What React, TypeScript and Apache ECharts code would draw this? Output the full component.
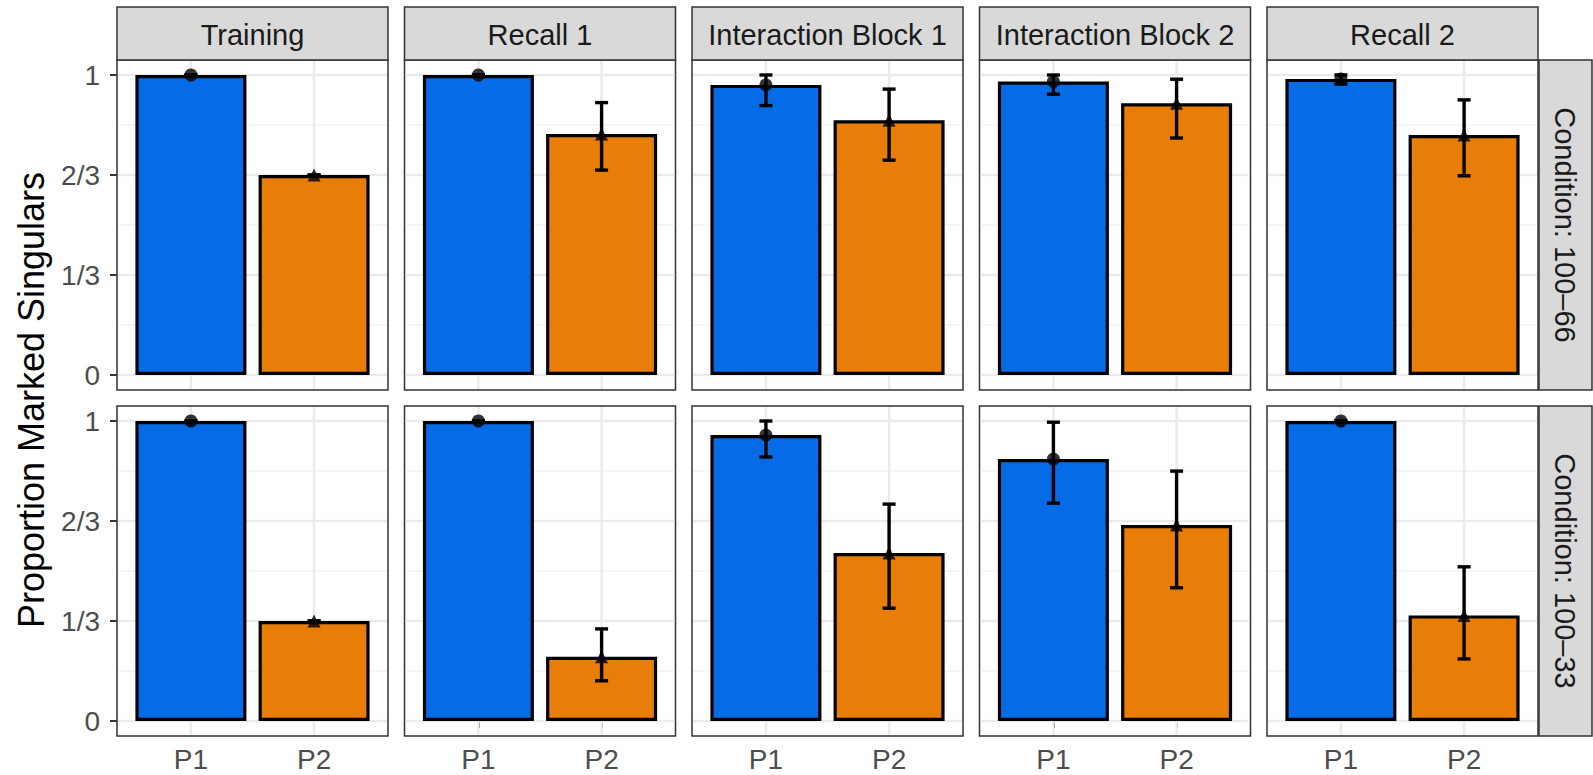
import React, { useEffect, useRef } from "react";
import * as echarts from "echarts";

// ---------- data ----------
const stages = ["Training", "Recall 1", "Interaction Block 1", "Interaction Block 2", "Recall 2"];
const conditions = ["Condition: 100\u201366", "Condition: 100\u201333"];
const participants = ["P1", "P2"];
const yTickValues = [0, 1 / 3, 2 / 3, 1];
const yTickLabels = ["0", "1/3", "2/3", "1"];
const yMinorValues = [1 / 6, 1 / 2, 5 / 6];
const xTickValues = [1, 2];

// Condition 100-66 (top row)
const c66P1 = [1, 1, 0.967, 0.978, 0.987];
const c66P1Low = [1, 1, 0.898, 0.936, 0.97];
const c66P1High = [1, 1, 1.0, 1.0, 1.0];
const c66P2 = [2 / 3, 0.803, 0.849, 0.906, 0.8];
const c66P2Low = [2 / 3, 0.683, 0.716, 0.79, 0.664];
const c66P2High = [2 / 3, 0.908, 0.953, 0.986, 0.917];

// Condition 100-33 (bottom row)
const c33P1 = [1, 1, 0.953, 0.873, 1];
const c33P1Low = [1, 1, 0.88, 0.726, 1];
const c33P1High = [1, 1, 1.0, 0.996, 1];
const c33P2 = [1 / 3, 0.214, 0.56, 0.653, 0.352];
const c33P2Low = [1 / 3, 0.134, 0.376, 0.444, 0.207];
const c33P2High = [1 / 3, 0.307, 0.723, 0.833, 0.514];

const rows = [
  { p1: c66P1, p1Low: c66P1Low, p1High: c66P1High, p2: c66P2, p2Low: c66P2Low, p2High: c66P2High },
  { p1: c33P1, p1Low: c33P1Low, p1High: c33P1High, p2: c33P2, p2Low: c33P2Low, p2High: c33P2High },
];

// ---------- layout / style ----------
const FONT = "'Liberation Sans', Arial, Helvetica, sans-serif";
const PANEL_LEFT0 = 117;
const PANEL_W = 271;
const PANEL_GAP = 16.5;
const ROW_TOPS = [60, 406];
const PANEL_H = 330;
const STRIP_TOP = 7;
const STRIP_H = 53;
const RSTRIP_X = 1539;
const RSTRIP_W = 53;
const BAR_COLORS = ["#066BE6", "#E87D07"];
const SYMBOLS = ["circle", "triangle"];

function buildOption() {
  const grid: any[] = [];
  const xAxis: any[] = [];
  const yAxis: any[] = [];
  const series: any[] = [];
  const graphic: any[] = [];

  rows.forEach((row, r) => {
    stages.forEach((stage, c) => {
      const idx = r * stages.length + c;
      const left = PANEL_LEFT0 + c * (PANEL_W + PANEL_GAP);
      const top = ROW_TOPS[r];
      grid.push({
        left,
        top,
        width: PANEL_W,
        height: PANEL_H,
        show: true,
        backgroundColor: "#ffffff",
        borderColor: "#333333",
        borderWidth: 1.5,
        containLabel: false,
      });
      xAxis.push({
        gridIndex: idx,
        type: "value",
        min: 0.4,
        max: 2.6,
        axisLine: { show: false },
        splitLine: { show: false },
        axisTick: {
          show: r === 1,
          customValues: xTickValues,
          length: 7,
          lineStyle: { color: "#333333", width: 2 },
        },
        axisLabel: {
          show: r === 1,
          customValues: xTickValues,
          formatter: (v: number) => participants[Math.round(v) - 1] ?? "",
          color: "#4D4D4D",
          fontSize: 28,
          fontFamily: FONT,
          margin: 9,
        },
      });
      yAxis.push({
        gridIndex: idx,
        type: "value",
        min: -0.05,
        max: 1.05,
        axisLine: { show: false },
        splitLine: { show: false },
        axisTick: {
          show: c === 0,
          customValues: yTickValues,
          length: 7,
          lineStyle: { color: "#333333", width: 2 },
        },
        axisLabel: {
          show: c === 0,
          customValues: yTickValues,
          formatter: (v: number) => yTickLabels[Math.round(v * 3)] ?? "",
          color: "#4D4D4D",
          fontSize: 28,
          fontFamily: FONT,
          margin: 17,
        },
      });

      // gridlines: [value, kind] kind 0 = minor horizontal, 1 = major horizontal, 2 = vertical
      const gridData: number[][] = [
        ...yMinorValues.map((v) => [v, 0]),
        ...yTickValues.map((v) => [v, 1]),
        ...xTickValues.map((v) => [v, 2]),
      ];
      series.push({
        type: "custom",
        xAxisIndex: idx,
        yAxisIndex: idx,
        silent: true,
        z: 1,
        encode: { x: -1, y: -1 },
        data: gridData,
        renderItem: (params: any, api: any) => {
          const v = api.value(0);
          const kind = api.value(1);
          const cs = params.coordSys;
          if (kind === 2) {
            const x = api.coord([v, 0.5])[0];
            return {
              type: "line",
              shape: { x1: x, y1: cs.y + 1, x2: x, y2: cs.y + cs.height - 1 },
              style: { stroke: "#EBEBEB", lineWidth: 2.5 },
            };
          }
          const y = api.coord([1.5, v])[1];
          return {
            type: "line",
            shape: { x1: cs.x + 1, y1: y, x2: cs.x + cs.width - 1, y2: y },
            style: { stroke: kind === 1 ? "#EBEBEB" : "#F2F2F2", lineWidth: kind === 1 ? 2.5 : 1.5 },
          };
        },
      });

      const vals = [row.p1[c], row.p2[c]];
      const lows = [row.p1Low[c], row.p2Low[c]];
      const highs = [row.p1High[c], row.p2High[c]];

      series.push({
        type: "bar",
        xAxisIndex: idx,
        yAxisIndex: idx,
        barWidth: 111,
        z: 2,
        itemStyle: { borderColor: "#000000", borderWidth: 3.2 },
        data: vals.map((v, i) => ({
          value: [xTickValues[i], v],
          itemStyle: { color: BAR_COLORS[i] },
        })),
      });

      series.push({
        type: "custom",
        xAxisIndex: idx,
        yAxisIndex: idx,
        z: 3,
        encode: { x: 0, y: [1, 2] },
        data: vals.map((_, i) => [xTickValues[i], lows[i], highs[i]]),
        renderItem: (params: any, api: any) => {
          const x = api.value(0);
          const lo = api.coord([x, api.value(1)]);
          const hi = api.coord([x, api.value(2)]);
          const hw = 6.5;
          const st = { stroke: "#000000", lineWidth: 3.4 };
          return {
            type: "group",
            children: [
              { type: "line", shape: { x1: lo[0], y1: lo[1], x2: hi[0], y2: hi[1] }, style: st },
              { type: "line", shape: { x1: lo[0] - hw, y1: lo[1], x2: lo[0] + hw, y2: lo[1] }, style: st },
              { type: "line", shape: { x1: hi[0] - hw, y1: hi[1], x2: hi[0] + hw, y2: hi[1] }, style: st },
            ],
          };
        },
      });

      series.push({
        type: "scatter",
        xAxisIndex: idx,
        yAxisIndex: idx,
        z: 4,
        symbolSize: 13,
        itemStyle: { color: "#000000" },
        data: vals.map((v, i) => ({ value: [xTickValues[i], v], symbol: SYMBOLS[i] })),
      });

      // top strips (only first row)
      if (r === 0) {
        graphic.push({
          type: "rect",
          shape: { x: left, y: STRIP_TOP, width: PANEL_W, height: STRIP_H },
          style: { fill: "#D9D9D9", stroke: "#333333", lineWidth: 1.5 },
          z: 10,
        });
        graphic.push({
          type: "text",
          x: left + PANEL_W / 2,
          y: STRIP_TOP + STRIP_H / 2 + 1,
          z: 11,
          style: {
            text: stage,
            align: "center",
            verticalAlign: "middle",
            fontSize: 29,
            fontFamily: FONT,
            fill: "#1A1A1A",
          },
        });
      }
    });

    // right strips
    graphic.push({
      type: "rect",
      shape: { x: RSTRIP_X, y: ROW_TOPS[r], width: RSTRIP_W, height: PANEL_H },
      style: { fill: "#D9D9D9", stroke: "#333333", lineWidth: 1.5 },
      z: 10,
    });
    graphic.push({
      type: "text",
      x: RSTRIP_X + RSTRIP_W / 2 - 1,
      y: ROW_TOPS[r] + PANEL_H / 2,
      rotation: -Math.PI / 2,
      z: 11,
      style: {
        text: conditions[r],
        align: "center",
        verticalAlign: "middle",
        fontSize: 29,
        fontFamily: FONT,
        fill: "#1A1A1A",
      },
    });
  });

  graphic.push({
    type: "text",
    x: 31,
    y: (ROW_TOPS[0] + ROW_TOPS[1] + PANEL_H) / 2 + 2,
    rotation: Math.PI / 2,
    z: 11,
    style: {
      text: "Proportion Marked Singulars",
      align: "center",
      verticalAlign: "middle",
      fontSize: 36,
      fontFamily: FONT,
      fill: "#000000",
    },
  });

  return {
    animation: false,
    backgroundColor: "#ffffff",
    grid,
    xAxis,
    yAxis,
    series,
    graphic,
  };
}

export default function App() {
  const ref = useRef<HTMLDivElement | null>(null);
  useEffect(() => {
    if (!ref.current) return;
    const chart = echarts.init(ref.current, undefined, { renderer: "svg" });
    chart.setOption(buildOption() as any);
    return () => chart.dispose();
  }, []);
  return (
    <div
      ref={ref}
      style={{ position: "absolute", left: 0, top: 0, width: 1593, height: 775 }}
    />
  );
}
